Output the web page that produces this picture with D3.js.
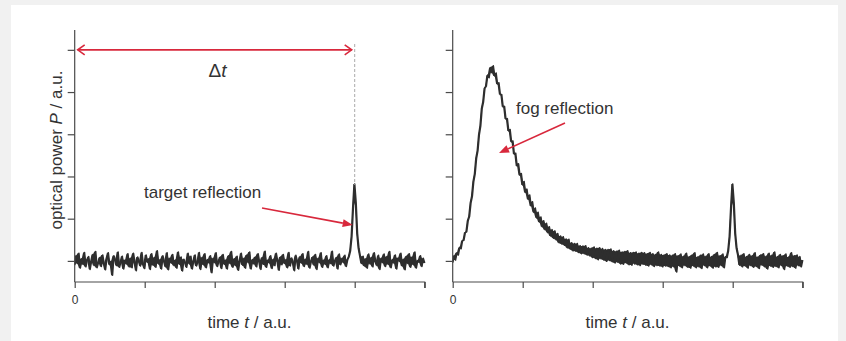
<!DOCTYPE html>
<html>
<head>
<meta charset="utf-8">
<script src="https://cdn.jsdelivr.net/npm/d3@7"></script>
<style>
  html, body { margin: 0; padding: 0; background: #f1f1f1; }
  svg { display: block; }
  text { font-family: "Liberation Sans", Arial, sans-serif; fill: #333; }
</style>
</head>
<body>
<svg id="chart" width="846" height="341"></svg>
<script>
// ---- data ----
const xTicks = [0, 1, 2, 3, 4, 5];
const xTickLabels = ["0", "", "", "", "", ""];
const yTicks = [1, 2, 3, 4, 5, 6];
const sampleTimes = d3.range(251).map(i => i / 50); // sampling grid, t = 0 … 5

// left panel: target reflection only
const leftPower = [
0.90,1.12,0.94,1.18,0.83,1.05,0.92,1.20,0.86,1.02,
1.10,0.80,0.99,1.15,0.89,1.22,0.84,0.96,1.08,0.87,
1.14,0.94,0.79,1.06,1.19,0.91,0.99,0.66,1.12,1.03,
0.89,1.21,0.85,0.97,1.11,0.81,1.02,0.93,1.17,0.86,
1.06,0.84,1.18,0.96,0.77,1.09,1.00,0.88,1.20,0.92,
0.82,1.14,0.97,1.05,0.80,1.17,0.90,1.08,0.85,1.24,
0.93,1.03,0.81,1.12,0.99,0.86,1.19,0.79,1.06,0.95,
1.15,0.89,1.02,0.83,1.21,0.92,1.09,0.76,1.04,0.96,
0.85,1.18,0.93,1.11,0.81,1.00,1.14,0.88,0.98,1.20,
0.80,1.08,0.91,1.17,0.84,1.03,0.95,1.12,0.72,1.06,
0.96,1.19,0.87,0.99,1.09,0.82,1.15,0.92,1.02,0.81,
1.12,0.94,1.22,0.85,1.05,0.89,1.11,0.78,1.00,1.18,
0.90,1.06,0.83,1.14,0.96,1.21,0.81,1.03,0.93,1.09,
0.86,1.17,0.98,0.80,1.08,0.92,1.23,0.85,1.02,0.95,
1.12,0.82,1.04,0.89,1.18,0.99,0.78,1.09,0.91,1.15,
0.94,1.03,0.84,1.20,0.88,1.07,0.97,0.77,1.13,1.00,
0.81,1.10,0.95,1.17,0.87,1.04,0.92,1.22,0.83,0.99,
1.09,0.90,1.15,0.80,1.06,0.96,1.19,0.85,1.02,0.92,
1.12,0.84,1.03,0.94,1.23,0.88,0.99,1.08,0.81,1.16,
0.91,1.06,0.96,1.13,0.87,1.03,1.10,1.24,1.58,2.25,
2.82,2.38,1.65,1.30,1.12,0.94,1.11,0.88,1.05,0.83,
1.16,0.93,1.08,0.86,1.19,0.98,0.89,1.13,0.80,1.06,
0.96,1.16,0.87,1.10,0.92,1.22,0.84,1.03,0.95,1.14,
0.81,1.07,0.99,1.18,0.88,1.04,0.79,1.11,0.94,1.17,
0.85,1.09,0.91,1.21,0.83,1.01,0.97,1.12,0.87,1.06,
0.95
];

// right panel: fog reflection followed by target reflection
const rightPower = [
0.96,1.12,1.02,1.19,1.14,1.32,1.29,1.48,1.49,1.67,
1.69,1.95,2.05,2.37,2.53,2.88,3.06,3.43,3.61,3.99,
4.20,4.61,4.77,5.09,5.14,5.40,5.34,5.58,5.46,5.62,
5.38,5.45,5.19,5.22,4.94,4.94,4.65,4.66,4.36,4.37,
4.08,4.11,3.82,3.84,3.53,3.55,3.25,3.30,3.03,3.07,
2.80,2.88,2.62,2.70,2.46,2.56,2.30,2.40,2.15,2.25,
2.02,2.15,1.92,2.04,1.81,1.95,1.74,1.89,1.67,1.81,
1.59,1.74,1.54,1.71,1.50,1.65,1.43,1.59,1.40,1.57,
1.37,1.52,1.31,1.51,1.28,1.43,1.24,1.41,1.23,1.41,
1.20,1.36,1.17,1.35,1.17,1.36,1.14,1.31,1.12,1.30,
1.08,1.33,1.06,1.30,1.03,1.31,1.05,1.29,1.02,1.27,
0.99,1.27,1.01,1.28,0.98,1.24,0.95,1.23,0.97,1.25,
0.93,1.21,0.92,1.22,0.95,1.24,0.91,1.19,0.90,1.20,
0.93,1.21,0.91,1.18,0.89,1.20,0.92,1.19,0.90,1.17,
0.88,1.20,0.91,1.17,0.87,1.15,0.89,1.21,0.88,1.15,
0.86,1.14,0.88,1.17,0.87,1.14,0.84,1.13,0.86,1.17,
0.74,1.12,0.88,1.16,0.84,1.11,0.89,1.18,0.85,1.10,
0.83,1.14,0.88,1.19,0.84,1.09,0.86,1.13,0.82,1.16,
0.89,1.11,0.84,1.17,0.88,1.10,0.83,1.15,0.86,1.20,
0.85,1.12,0.89,1.16,0.84,1.10,1.08,1.24,1.58,2.25,
2.82,2.38,1.65,1.30,1.14,0.90,1.13,0.86,1.17,0.88,
1.10,0.83,1.15,0.89,1.12,0.85,1.19,0.87,1.09,0.82,
1.14,0.90,1.17,0.86,1.11,0.81,1.18,0.88,1.13,0.85,
1.21,0.87,1.10,0.84,1.15,0.89,1.12,0.80,1.16,0.88,
1.09,0.85,1.19,0.87,1.12,0.83,1.14,0.89,1.10,0.86,
1.02
];

// ---- drawing ----
const svg = d3.select("#chart");
svg.append("rect").attr("x", 11).attr("y", 5).attr("width", 827).attr("height", 340).attr("fill", "#fff");

const RED = "#d8283c";
const AXIS = "#4a4a4a";
const TRACE = "#2e2e2e";
const FONT = 17;
const y = d3.scaleLinear().domain([0.5, 6.47]).range([282, 30]);

const panels = [
  { x0: 74.7, values: leftPower, labelX: 249.5 },
  { x0: 452.7, values: rightPower, labelX: 627.5 }
];

const scales = panels.map(p => d3.scaleLinear().domain([0, 5]).range([p.x0, p.x0 + 350]));

panels.forEach((p, k) => {
  const x = scales[k];
  const v = p.values;
  const g = svg.append("g");

  // dense oscilloscope-like trace: fill between consecutive samples, then the sample line on top
  const nextOf = i => (i + 1 < v.length ? v[i + 1] : v[i]);
  const band = d3.area()
    .x((d, i) => x(sampleTimes[i]))
    .y0((d, i) => y(Math.min(d, nextOf(i))))
    .y1((d, i) => y(Math.max(d, nextOf(i))));
  g.append("path").datum(v).attr("d", band).attr("fill", TRACE).attr("stroke", "none");

  const line = d3.line().x((d, i) => x(sampleTimes[i])).y(d => y(d));
  g.append("path").datum(v)
    .attr("d", line).attr("fill", "none")
    .attr("stroke", TRACE).attr("stroke-width", 1.6).attr("stroke-linejoin", "round");

  // y axis
  const yAxis = d3.axisLeft(y).tickValues(yTicks).tickSize(7).tickFormat("");
  const ya = g.append("g").attr("transform", `translate(${p.x0},0)`).call(yAxis);
  ya.select(".domain").attr("d", `M0,${y.range()[1]}V${y.range()[0]}`);
  ya.selectAll("path,line").attr("stroke", AXIS).attr("stroke-width", 1.2);

  // x axis
  const xAxis = d3.axisBottom(x).tickValues(xTicks).tickSize(6).tickFormat((d, i) => xTickLabels[i]);
  const xa = g.append("g").attr("transform", `translate(0,282)`).call(xAxis);
  xa.select(".domain").attr("d", `M${x.range()[0]},0H${x.range()[1]}V6`);
  xa.selectAll("path,line").attr("stroke", AXIS).attr("stroke-width", 1.2);
  xa.selectAll("text").attr("fill", "#333").attr("font-size", 12)
    .attr("font-family", "Liberation Sans, Arial, sans-serif").attr("dy", "1.1em");

  // x label
  const xl = g.append("text").attr("x", p.labelX).attr("y", 328).attr("text-anchor", "middle").attr("font-size", FONT);
  xl.append("tspan").text("time ");
  xl.append("tspan").attr("font-style", "italic").text("t");
  xl.append("tspan").text(" / a.u.");
});

// y label
const yl = svg.append("text").attr("transform", "translate(62,150) rotate(-90)")
  .attr("text-anchor", "middle").attr("font-size", FONT);
yl.append("tspan").text("optical power ");
yl.append("tspan").attr("font-style", "italic").text("P");
yl.append("tspan").text(" / a.u.");

// Δt annotation
const xL = scales[0];
svg.append("line").attr("x1", xL(4)).attr("x2", xL(4)).attr("y1", 44).attr("y2", y(2.8))
  .attr("stroke", "#aaa").attr("stroke-width", 1).attr("stroke-dasharray", "3,2");
const ay = y(6);
svg.append("line").attr("x1", xL(0) + 3).attr("x2", xL(4) - 3).attr("y1", ay).attr("y2", ay)
  .attr("stroke", RED).attr("stroke-width", 1.6);
svg.append("path").attr("d", `M${xL(0) + 10},${ay - 5}L${xL(0) + 3},${ay}L${xL(0) + 10},${ay + 5}`)
  .attr("fill", "none").attr("stroke", RED).attr("stroke-width", 1.6);
svg.append("path").attr("d", `M${xL(4) - 10},${ay - 5}L${xL(4) - 3},${ay}L${xL(4) - 10},${ay + 5}`)
  .attr("fill", "none").attr("stroke", RED).attr("stroke-width", 1.6);
const dt = svg.append("text").attr("x", 217.5).attr("y", 77).attr("text-anchor", "middle").attr("font-size", 19);
dt.append("tspan").text("Δ");
dt.append("tspan").attr("font-style", "italic").text("t");

// annotation arrows
function arrow(x1, y1, x2, y2) {
  const ang = Math.atan2(y2 - y1, x2 - x1);
  const L = 10, W = 4;
  const bx = x2 - L * Math.cos(ang), by = y2 - L * Math.sin(ang);
  svg.append("line").attr("x1", x1).attr("y1", y1).attr("x2", bx).attr("y2", by)
    .attr("stroke", RED).attr("stroke-width", 1.6);
  const px = -Math.sin(ang) * W, py = Math.cos(ang) * W;
  svg.append("path").attr("d", `M${x2},${y2}L${bx + px},${by + py}L${bx - px},${by - py}Z`).attr("fill", RED);
}
svg.append("text").attr("x", 144).attr("y", 198).attr("font-size", FONT).text("target reflection");
arrow(262, 208, xL(4) - 2, 225);

svg.append("text").attr("x", 516).attr("y", 114).attr("font-size", FONT).text("fog reflection");
arrow(565, 123, 499, 153);
</script>
</body>
</html>
